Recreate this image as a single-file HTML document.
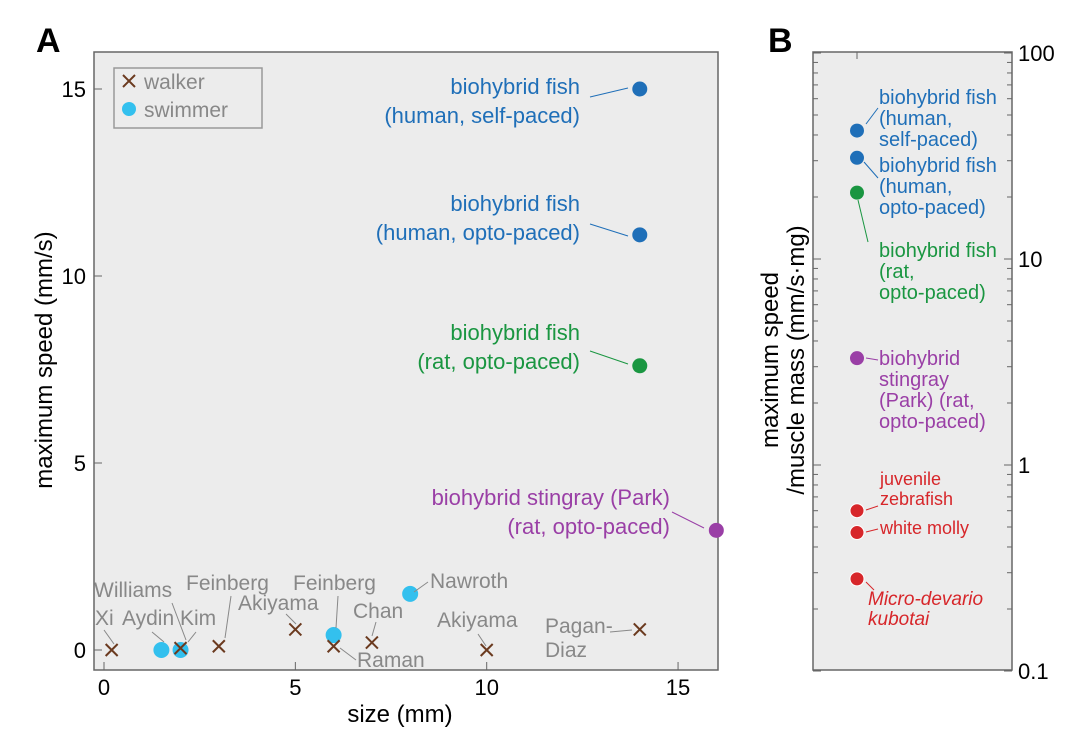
<!DOCTYPE html>
<html><head><meta charset="utf-8"><style>
body{margin:0;background:#fff;}
svg{font-family:"Liberation Sans",sans-serif;}
</style></head><body>
<svg id="c" width="1080" height="734" viewBox="0 0 1080 734" xmlns="http://www.w3.org/2000/svg">
<text x="36" y="52" font-size="34" font-weight="bold">A</text>
<text x="768" y="52" font-size="34" font-weight="bold">B</text>
<rect x="94" y="52" width="624" height="618" fill="#ececec" stroke="#666" stroke-width="1.5"/>
<rect x="813" y="52" width="199" height="618" fill="#ececec" stroke="#666" stroke-width="1.5"/>
<g id="ga"></g><g id="gb"></g>
<text x="400" y="722" font-size="24" text-anchor="middle">size (mm)</text>
<text transform="translate(52,360) rotate(-90)" font-size="24" text-anchor="middle">maximum speed (mm/s)</text>
<text transform="translate(778,360) rotate(-90)" font-size="24" text-anchor="middle">maximum speed</text>
<text transform="translate(804,360) rotate(-90)" font-size="24" text-anchor="middle">/muscle mass (mm/s·mg)</text>
<g>
<rect x="114" y="68" width="148" height="60" fill="#ececec" stroke="#999" stroke-width="1.5"/>
<path d="M123,75l12,12M135,75l-12,12" stroke="#6b3a1f" stroke-width="2"/>
<text x="144" y="89" font-size="21" fill="#888">walker</text>
<circle cx="129" cy="109" r="7" fill="#33c0ee"/>
<text x="144" y="117" font-size="21" fill="#888">swimmer</text>
</g>
</svg>
<script>
const ns="http://www.w3.org/2000/svg";
const xTicks=[0,5,10,15];
const yTicks=[0,5,10,15];
const walkerX=[0.2,2,3,5,6,7,10,14];
const walkerY=[0,0.05,0.1,0.55,0.1,0.2,0,0.55];
const swimmerX=[1.5,2,6,8];
const swimmerY=[0,0,0.4,1.5];
const fishX=[14,14,14,16];
const fishY=[15,11.1,7.6,3.2];
const bTicks=[0.1,1,10,100];
const bTickLabels=["0.1","1","10","100"];
const bValues=[42,31,21,3.3,0.6,0.47,0.28];
const fishColors=["#1f6fb8","#1f6fb8","#1a9641","#9a3fa6"];
const bColors=["#1f6fb8","#1f6fb8","#1a9641","#9a3fa6","#d7262a","#d7262a","#d7262a"];
const X=v=>104+v*38.27;
const Y=v=>650-v*37.4;
const YB=v=>465-Math.log10(v)*206;
const XB=857;
const ga=document.getElementById('ga'),gb=document.getElementById('gb');
function mk(p,t,a){const e=document.createElementNS(ns,t);for(const k in a)e.setAttribute(k,a[k]);p.appendChild(e);return e;}
xTicks.forEach(t=>{mk(ga,'line',{x1:X(t),x2:X(t),y1:670,y2:662,stroke:'#666'});
 const e=mk(ga,'text',{x:X(t),y:695,'font-size':22,'text-anchor':'middle'});e.textContent=t;
 
 });
yTicks.forEach(t=>{mk(ga,'line',{x1:94,x2:102,y1:Y(t),y2:Y(t),stroke:'#666'});
 const e=mk(ga,'text',{x:86,y:Y(t)+8,'font-size':22,'text-anchor':'end'});e.textContent=t;
 
 });
const lab=[
 [["Xi"],95,625,'#888',104,630,114,644],
 [["Aydin"],122,625,'#888',152,632,164,642],
 [["Williams"],94,597,'#888',172,603,186,640],
 [["Kim"],180,625,'#888',196,632,188,642],
 [["Feinberg"],186,590,'#888',231,596,225,638],
 [["Akiyama"],238,610,'#888',286,614,296,624],
 [["Feinberg"],293,590,'#888',338,596,336,628],
 [["Chan"],353,618,'#888',376,622,372,636],
 [["Raman"],357,667,'#888',356,660,340,648],
 [["Nawroth"],430,588,'#888',428,582,414,592],
 [["Akiyama"],437,627,'#888',478,634,486,646],
 [["Pagan-","Diaz"],545,633,'#888',610,632,632,630]];
swimmerX.forEach((x,i)=>{const c=mk(ga,'circle',{cx:X(x),cy:Y(swimmerY[i]),r:8,fill:'#33c0ee'});
 
 });
walkerX.forEach((x,i)=>{const p=mk(ga,'path',{d:`M${X(x)-6},${Y(walkerY[i])-6}l12,12M${X(x)+6},${Y(walkerY[i])-6}l-12,12`,stroke:'#6b3a1f','stroke-width':2});
 
 });
fishX.forEach((x,i)=>{const c=mk(ga,'circle',{cx:X(x),cy:Y(fishY[i]),r:7.5,fill:fishColors[i]});
 
 });
const flab=[
 [["biohybrid fish","(human, self-paced)"],580,94,590,97,628,88],
 [["biohybrid fish","(human, opto-paced)"],580,211,590,224,628,236],
 [["biohybrid fish","(rat, opto-paced)"],580,340,590,351,628,364],
 [["biohybrid stingray (Park)","(rat, opto-paced)"],670,505,672,512,704,528]];
function textBlock(g,lines,x,y,col,anchor,lh,size,italic){lines.forEach((s,j)=>{const e=mk(g,'text',{x:x,y:y+j*lh,'font-size':size,fill:col,'text-anchor':anchor});if(italic)e.setAttribute('font-style','italic');e.textContent=s;
 
 });}
lab.forEach(l=>{mk(ga,'line',{x1:l[4],y1:l[5],x2:l[6],y2:l[7],stroke:'#888','stroke-width':1});textBlock(ga,l[0],l[1],l[2],l[3],'start',24,21);});
flab.forEach((l,i)=>{mk(ga,'line',{x1:l[3],y1:l[4],x2:l[5],y2:l[6],stroke:fishColors[i],'stroke-width':1});textBlock(ga,l[0],l[1],l[2],fishColors[i],'end',29,22);});
bTicks.forEach((t,i)=>{mk(gb,'line',{x1:1004,x2:1012,y1:YB(t),y2:YB(t),stroke:'#666'});mk(gb,'line',{x1:813,x2:821,y1:YB(t),y2:YB(t),stroke:'#666'});
 const e=mk(gb,'text',{x:1018,y:YB(t)+8,'font-size':22});e.textContent=bTickLabels[i];
 
 
 if(i<bTicks.length-1)for(let m=2;m<10;m++){const yy=YB(t*m);mk(gb,'line',{x1:1007,x2:1012,y1:yy,y2:yy,stroke:'#666'});mk(gb,'line',{x1:813,x2:818,y1:yy,y2:yy,stroke:'#666'});}});
mk(gb,'line',{x1:XB,x2:XB,y1:52,y2:59,stroke:'#666'});
const blab=[
 [["biohybrid fish","(human,","self-paced)"],879,104,878,108,866,124,20],
 [["biohybrid fish","(human,","opto-paced)"],879,172,878,178,864,162,20],
 [["biohybrid fish","(rat,","opto-paced)"],879,257,868,242,858,200,20],
 [["biohybrid","stingray","(Park) (rat,","opto-paced)"],879,365,878,360,866,358,20],
 [["juvenile","zebrafish"],880,485,878,506,866,510,18],
 [["white molly"],880,534,878,529,866,532,18],
 [["Micro-devario","kubotai"],868,605,874,590,866,582,19]];
bValues.forEach((v,i)=>{const c=mk(gb,'circle',{cx:XB,cy:YB(v),r:7,fill:bColors[i],stroke:i>3?'#fff':'none'});
 
 });
blab.forEach((l,i)=>{mk(gb,'line',{x1:l[3],y1:l[4],x2:l[5],y2:l[6],stroke:bColors[i],'stroke-width':1});textBlock(gb,l[0],l[1],l[2],bColors[i],'start',i>3?20:21,l[7],i==6);});
</script>
</body></html>
